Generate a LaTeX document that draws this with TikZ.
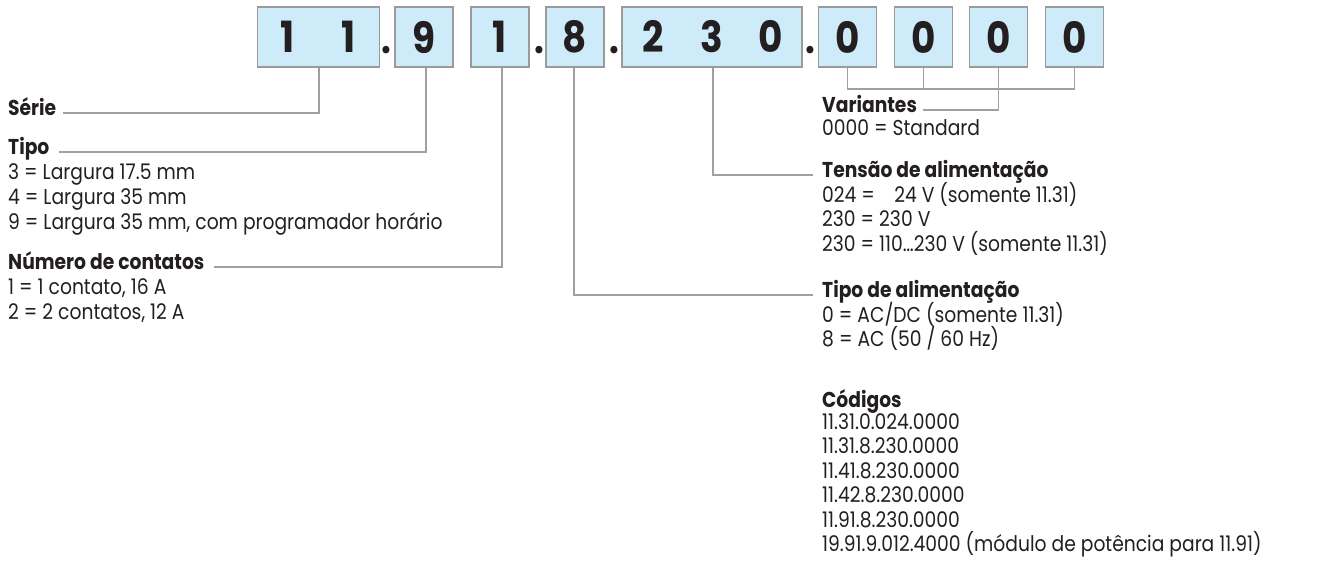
\documentclass[tikz,border=0pt]{standalone}
\usepackage{fontspec}
\setmainfont{Poppins}[FakeStretch=0.87]
\definecolor{boxfill}{HTML}{CDEBF8}
\definecolor{boxline}{HTML}{9A9A9A}
\definecolor{wire}{HTML}{A0A0A0}
\definecolor{ink}{HTML}{231F20}
\begin{document}
\begin{tikzpicture}[x=1pt,y=-1pt,
  digitbox/.style={draw=boxline,fill=boxfill,line width=1.2pt,minimum height=60pt,minimum width=58pt,inner sep=0pt,
    font=\fontsize{43}{43}\selectfont\bfseries,text=ink},
  sep/.style={font=\fontsize{40}{40}\selectfont\bfseries,text=ink,inner sep=0pt,anchor=base},
  conn/.style={draw=wire,line width=1.3pt},
  head/.style={anchor=mid west,inner sep=0pt,font=\fontsize{21.5}{22}\selectfont\bfseries,text=ink},
  body/.style={anchor=mid west,inner sep=0pt,font=\fontsize{21.5}{22}\selectfont,text=ink}]
\useasboundingbox (0,0) rectangle (1341,563);
% code boxes
\node[digitbox,minimum width=119pt] (A) at (318.5,37) {\makebox[61pt]{1}\makebox[61pt]{1}};
\node[digitbox] (B) at (424,37) {9};
\node[digitbox] (C) at (500,37) {1};
\node[digitbox] (D) at (575,37) {8};
\node[digitbox,minimum width=180pt] (E) at (712,37) {\makebox[59pt]{2}\makebox[59pt]{3}\makebox[59pt]{0}};
\node[digitbox] (F0) at (847.5,37) {0};
\node[digitbox] (F1) at (923.5,37) {0};
\node[digitbox] (F2) at (998.5,37) {0};
\node[digitbox] (F3) at (1074.5,37) {0};
% separating dots
\node[sep] (p1) at (386,53) {.};
\node[sep] (p2) at (539,53) {.};
\node[sep] (p3) at (614,53) {.};
\node[sep] (p4) at (810,53) {.};
% left column
\node[head] (serie) at (8,113) {Série};
\node[head] (tipo) at (8,152) {Tipo};
\node[body] at (8,177) {3 = Largura 17.5 mm};
\node[body] at (8,202) {4 = Largura 35 mm};
\node[body] at (8,227) {9 = Largura 35 mm, com programador horário};
\node[head] (cont) at (8,267) {Número de contatos};
\node[body] at (8,292) {1 = 1 contato, 16 A};
\node[body] at (8,317) {2 = 2 contatos, 12 A};
% right column
\node[head] (var) at (822,110) {Variantes};
\node[body] at (822,133) {0000 = Standard};
\node[head] (tens) at (822,175) {Tensão de alimentação};
\node[body] at (822,200) {024 = \phantom{2}\,24 V (somente 11.31)};
\node[body] at (822,224) {230 = 230 V};
\node[body] at (822,249) {230 = 110…230 V (somente 11.31)};
\node[head] (alim) at (822,295) {Tipo de alimentação};
\node[body] at (822,320) {0 = AC/DC (somente 11.31)};
\node[body] at (822,344) {8 = AC (50 / 60 Hz)};
\node[head] (cod) at (822,405) {Códigos};
\node[body] at (822,427) {11.31.0.024.0000};
\node[body] at (822,451) {11.31.8.230.0000};
\node[body] at (822,476) {11.41.8.230.0000};
\node[body] at (822,500) {11.42.8.230.0000};
\node[body] at (822,525) {11.91.8.230.0000};
\node[body] at (822,549) {19.91.9.012.4000 (módulo de potência para 11.91)};
% connectors
\draw[conn] ([xshift=0.5pt]A.south) |- ([xshift=7pt]serie.mid east);
\draw[conn] ([xshift=2pt]B.south) |- ([xshift=9pt]tipo.mid east);
\draw[conn] ([xshift=2pt]C.south) |- ([xshift=9pt]cont.mid east);
\draw[conn] ([xshift=-1pt]D.south) |- ([xshift=-9pt]alim.mid west);
\draw[conn] ([xshift=1pt]E.south) |- ([xshift=-9pt]tens.mid west);
\coordinate (vbus) at (0,89);
\draw[conn] (F0.south) -- (F0.south |- vbus) -- (F3.south |- vbus) -- (F3.south);
\draw[conn] (F1.south) -- (F1.south |- vbus);
\draw[conn] (F2.south) |- ([xshift=6pt]var.mid east);
\end{tikzpicture}
\end{document}
